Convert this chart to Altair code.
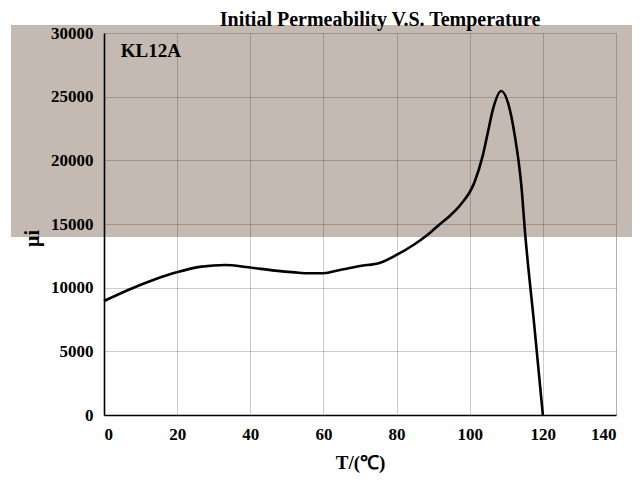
import altair as alt
import pandas as pd

# Temperature (°C) and initial permeability readings
temps = [0, 6.6, 14, 19.9, 26.7, 33.1, 39.5, 46.8, 52.2, 56, 60, 64.5, 70, 75.5, 80, 84.6,
         88.5, 91.5, 94.6, 97.6, 101.2, 103.6, 105.0, 106.4, 108.6, 110.9, 112.3, 114.1,
         115.2, 117.6, 120]
mu_i = [8950, 9820, 10660, 11210, 11650, 11780, 11600, 11340, 11200, 11130, 11130, 11390,
        11700, 11960, 12570, 13350, 14150, 14900, 15650, 16550, 18200, 20410, 22250, 24060,
        25450, 24060, 21980, 18070, 14100, 7200, 0]

x_ticks = [0, 20, 40, 60, 80, 100, 120, 140]
y_ticks = [0, 2500, 5000, 7500, 10000, 12500, 15000, 17500, 20000, 22500, 25000, 27500, 30000]

label_text = ["KL12A"]
label_T = [4.6]
label_mu = [28150]

df = pd.DataFrame({"T": temps, "mu": mu_i})
lab = pd.DataFrame({"T": label_T, "mu": label_mu, "text": label_text})

FONT = "Liberation Serif"

common_axis = dict(
    labelFont=FONT, titleFont=FONT, labelFontWeight="bold", titleFontWeight="bold",
    labelColor="black", titleColor="black",
    domainColor="black", domainWidth=1.6,
    gridColor="black", gridOpacity=0.2, gridWidth=1,
    ticks=False, zindex=1, labelFontSize=17,
)

x_enc = alt.X("T:Q", scale=alt.Scale(domain=[0, 140], nice=False),
              axis=alt.Axis(values=x_ticks, title="T/(℃)", format="d",
                            titleFontSize=19, labelPadding=11, titlePadding=11,
                            **common_axis))
y_enc = alt.Y("mu:Q", scale=alt.Scale(domain=[0, 30000], nice=False),
              axis=alt.Axis(values=y_ticks, title="μi", format="d",
                            labelExpr="datum.value % 5000 == 0 ? datum.label : ''",
                            titleFontSize=20, labelPadding=11,
                            titleX=-62, titleY=205, titleAngle=-90,
                            **common_axis))

# grey scanned patch behind the upper part of the figure (decoration)
patch = alt.Chart(pd.DataFrame({"a": [0]})).mark_rect(
    color="#c4bab1", clip=False
).encode(
    x=alt.value(-93), x2=alt.value(528), y=alt.value(-8), y2=alt.value(204)
)

line = alt.Chart(df).mark_line(
    color="black", strokeWidth=2.6, interpolate="monotone"
).encode(x=x_enc, y=y_enc)

text = alt.Chart(lab).mark_text(
    font=FONT, fontWeight="bold", fontSize=19, align="left", baseline="alphabetic",
    color="black"
).encode(x="T:Q", y="mu:Q", text="text:N")

chart = alt.layer(patch, line, text).properties(
    width=512, height=382,
    title=alt.TitleParams("Initial Permeability V.S. Temperature", anchor="middle",
                          dx=20, offset=-6, fontSize=20, font=FONT,
                          fontWeight="bold", color="black"),
    autosize=alt.AutoSizeParams(type="none"),
    padding={"left": 96, "top": 25, "right": 19, "bottom": 58},
).configure_view(
    stroke="#1a1a1a", strokeWidth=1.6
).configure(background="white")

chart.save("out.html", embed_options={"renderer": "svg", "actions": False})
